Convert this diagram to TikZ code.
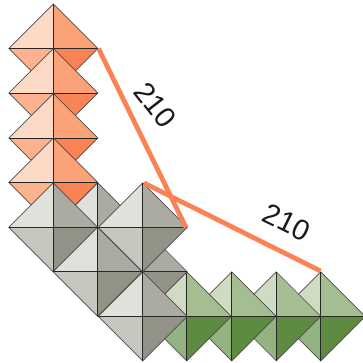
\documentclass[tikz,border=0pt]{standalone}
\usepackage{fontspec}
\setmainfont{Liberation Sans}
\definecolor{OrangeA}{RGB}{253, 218, 198}
\definecolor{OrangeB}{RGB}{251, 162, 121}
\definecolor{OrangeC}{RGB}{252, 177, 143}
\definecolor{OrangeD}{RGB}{249, 131, 85}
\definecolor{GreyA}{RGB}{224, 225, 219}
\definecolor{GreyB}{RGB}{171, 171, 163}
\definecolor{GreyC}{RGB}{198, 199, 191}
\definecolor{GreyD}{RGB}{146, 146, 134}
\definecolor{GreenA}{RGB}{207, 220, 195}
\definecolor{GreenB}{RGB}{164, 190, 146}
\definecolor{GreenC}{RGB}{147, 179, 128}
\definecolor{GreenD}{RGB}{93, 139, 63}
\begin{document}
\begin{tikzpicture}[
    x=1pt, y=-1pt,
    rim/.style={draw=black!70, line width=0.7pt, line join=miter},
    cross/.style={draw=black!85, line width=0.7pt},
    bond/.style={draw=OrangeD, line width=4.8pt},
    length/.style={font=\fontsize{29}{29}\selectfont, text=black!90, inner sep=0pt},
    pics/octa/.style={code={
        \fill[#1A] (-44.5,0) -- (0,-44.5) -- (0,0) -- cycle;
        \fill[#1B] (44.5,0) -- (0,-44.5) -- (0,0) -- cycle;
        \fill[#1C] (-44.5,0) -- (0,44.5) -- (0,0) -- cycle;
        \fill[#1D] (44.5,0) -- (0,44.5) -- (0,0) -- cycle;
        \draw[rim] (-44.5,0) -- (0,-44.5) -- (44.5,0) -- (0,44.5) -- cycle;
        \draw[cross] (-44.5,0) -- (44.5,0) (0,-44.5) -- (0,44.5);
    }}
]
\useasboundingbox (0,0) rectangle (363,362);

% Orange chain
\foreach \y in {48.5,93,138,182.5}
    \pic at (53.3,\y) {octa=Orange};

% Green chain
\foreach \x in {320.7,276.3,231.7,186.7}
    \pic at (\x,316.3) {octa=Green};

% Grey block
\foreach \x/\y in {97.7/227.3, 142.7/271.7, 53.3/227.3, 142.7/227.3, 97.7/271.7, 142.7/316.3}
    \pic at (\x,\y) {octa=Grey};

% Bonds
\coordinate (A1) at (98.5,48.5);
\coordinate (A2) at (186,227.5);
\coordinate (B1) at (144,183);
\coordinate (B2) at (320.5,271);
\draw[bond] (A1) -- (A2);
\draw[bond] (B1) -- (B2);
\node[length, rotate=-52] (labelA) at (155.5,105) {210};
\node[length, rotate=-26] (labelB) at (287,222.5) {210};

\end{tikzpicture}
\end{document}
